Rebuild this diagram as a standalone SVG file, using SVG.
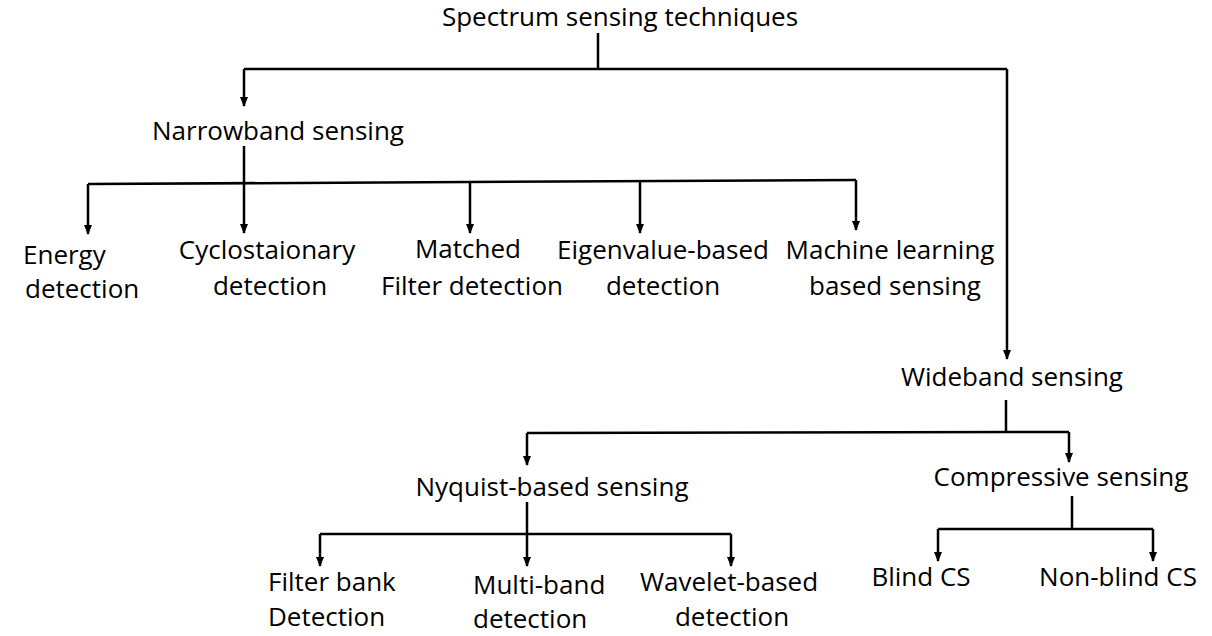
<svg xmlns="http://www.w3.org/2000/svg" width="1212" height="636" viewBox="0 0 1212 636">
<style>
text{font-family:"Open Sans","Noto Sans",sans-serif;font-size:26px;fill:#000}
.c{text-anchor:middle}
.e{stroke:#000;stroke-width:2.5;fill:none}
</style>
<defs>
<marker id="ah" markerUnits="userSpaceOnUse" markerWidth="10" markerHeight="10" viewBox="0 0 10 10" refX="9" refY="5" orient="auto">
<path d="M0,1 L10,5 L0,9 Z" fill="#000"/>
</marker>
</defs>
<rect width="1212" height="636" fill="#fff"/>
<g id="connectors">
<path class="e" d="M598,33 V69"/>
<path class="e" d="M244,69 H1007"/>
<path class="e" d="M244,69 V106" marker-end="url(#ah)"/>
<path class="e" d="M1007,69 V359" marker-end="url(#ah)"/>
<path class="e" d="M244,146 V233" marker-end="url(#ah)"/>
<path class="e" d="M88,184 L856,180"/>
<path class="e" d="M88,184 V234" marker-end="url(#ah)"/>
<path class="e" d="M470,182 V233" marker-end="url(#ah)"/>
<path class="e" d="M640,181 V233" marker-end="url(#ah)"/>
<path class="e" d="M856,180 V230" marker-end="url(#ah)"/>
<path class="e" d="M1006,400 V432"/>
<path class="e" d="M527,433 L1069,432"/>
<path class="e" d="M527,433 V465" marker-end="url(#ah)"/>
<path class="e" d="M1069,432 V462" marker-end="url(#ah)"/>
<path class="e" d="M527,502 V566" marker-end="url(#ah)"/>
<path class="e" d="M320,534 H731"/>
<path class="e" d="M320,534 V566" marker-end="url(#ah)"/>
<path class="e" d="M731,534 V566" marker-end="url(#ah)"/>
<path class="e" d="M1072,496 V529"/>
<path class="e" d="M938,529 H1153"/>
<path class="e" d="M938,529 V561" marker-end="url(#ah)"/>
<path class="e" d="M1153,529 V561" marker-end="url(#ah)"/>
</g>
<g id="root"><text class="c" x="620" y="26">Spectrum sensing techniques</text></g>
<g id="narrowband"><text class="c" x="278" y="140">Narrowband sensing</text></g>
<g id="energy"><text x="23" y="264">Energy</text><text x="25" y="298">detection</text></g>
<g id="cyclo"><text class="c" x="267" y="259">Cyclostaionary</text><text class="c" x="270" y="295">detection</text></g>
<g id="matched"><text class="c" x="468" y="258">Matched</text><text class="c" x="472" y="295">Filter detection</text></g>
<g id="eigen"><text class="c" x="663" y="259">Eigenvalue-based</text><text class="c" x="663" y="295">detection</text></g>
<g id="ml"><text class="c" x="890" y="259">Machine learning</text><text class="c" x="895" y="295">based sensing</text></g>
<g id="wideband"><text class="c" x="1012" y="386">Wideband sensing</text></g>
<g id="nyquist"><text class="c" x="552" y="496">Nyquist-based sensing</text></g>
<g id="compressive"><text class="c" x="1061" y="486">Compressive sensing</text></g>
<g id="filterbank"><text x="268" y="591">Filter bank</text><text x="268" y="626">Detection</text></g>
<g id="multiband"><text x="473" y="594">Multi-band</text><text x="473" y="628">detection</text></g>
<g id="wavelet"><text class="c" x="729" y="591">Wavelet-based</text><text class="c" x="732" y="626">detection</text></g>
<g id="blind"><text class="c" x="921" y="586">Blind CS</text></g>
<g id="nonblind"><text class="c" x="1118" y="586">Non-blind CS</text></g>
</svg>
